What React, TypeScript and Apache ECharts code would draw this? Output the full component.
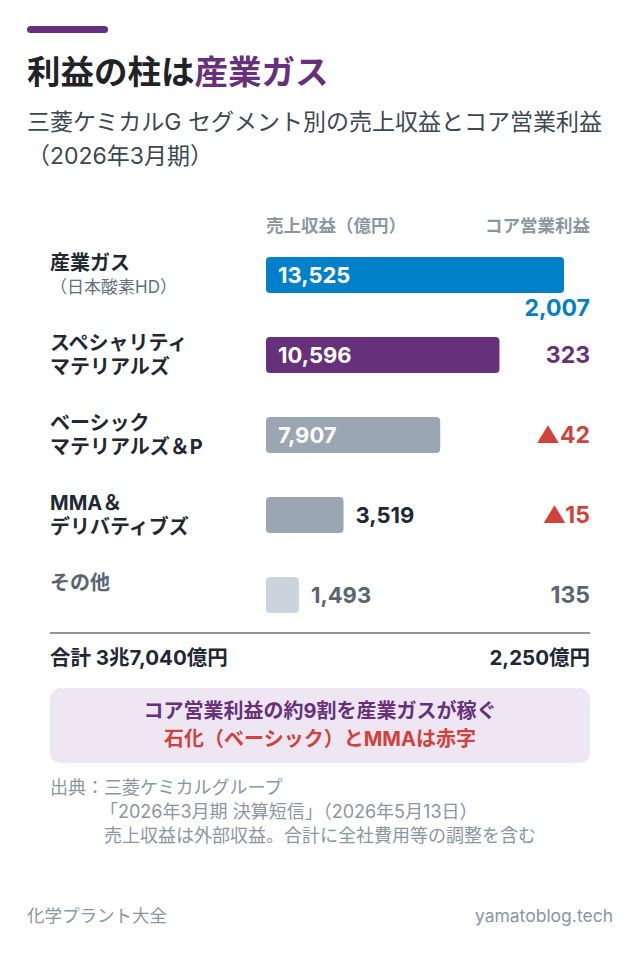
import { useEffect, useRef } from "react";
import * as echarts from "echarts";

// segment data (億円, 2026年3月期)
const segmentNames = ["産業ガス", "スペシャリティ", "ベーシック", "MMA＆", "その他"];
const segmentNotes = ["（日本酸素HD）", "マテリアルズ", "マテリアルズ＆P", "デリバティブズ", ""];
const revenue = [13525, 10596, 7907, 3519, 1493];
const coreProfit = [2007, 323, -42, -15, 135];
const totalRevenue = 37040;
const totalCoreProfit = 2250;

const FONT = "Inter, 'Noto Sans CJK JP', 'Noto Sans', sans-serif";
const DARK = "#1f2933";
const SUB = "#3d4752";
const MUTED = "#5b6571";
const LIGHT = "#8c96a1";
const BLUE = "#0080c8";
const PURPLE = "#66317a";
const RED = "#d0423b";

const barColors = [BLUE, PURPLE, "#9aa6b2", "#9aa6b2", "#c9d4dd"];
const coreColors = [BLUE, PURPLE, RED, RED, MUTED];
const outsideLabelColors = [DARK, DARK, DARK, DARK, MUTED];

const fmt = (n: number) => n.toLocaleString("en-US");
const fmtCore = (n: number) => (n < 0 ? "▲" + fmt(-n) : fmt(n));
function fmtOku(n: number) {
    const cho = Math.floor(n / 10000);
    return (cho ? cho + "兆" : "") + fmt(n % 10000) + "億円";
}

function txt(text: string, x: number, y: number, size: number, color: string, opts: { bold?: boolean; align?: string } = {}) {
    const align = opts.align ?? "left";
    return {
        type: "text",
        style: {
            text, x, y,
            font: `${opts.bold ? "bold " : ""}${size}px ${FONT}`,
            fill: color,
            align, textAlign: align,
            verticalAlign: "middle", textVerticalAlign: "middle"
        }
    };
}

function buildOption(): echarts.EChartsCoreOption {
    const leftRich: Record<string, object> = {
        n: { fontFamily: FONT, fontSize: 20, fontWeight: "bold", color: DARK, lineHeight: 24 },
        m: { fontFamily: FONT, fontSize: 20, fontWeight: "bold", color: MUTED, lineHeight: 24 },
        s: { fontFamily: FONT, fontSize: 17, color: "#66707a", lineHeight: 24 }
    };
    const rightRich: Record<string, object> = {
        sp: { fontSize: 12, lineHeight: 66 }
    };
    coreColors.forEach((c, i) => {
        rightRich["c" + i] = { fontFamily: FONT, fontSize: 23, fontWeight: "bold", color: c, lineHeight: i === 0 ? 66 : 30 };
    });

    return {
        animation: false,
        backgroundColor: "#ffffff",
        grid: { left: 266, right: 76, top: 235, height: 400 },
        xAxis: { type: "value", min: 0, max: 13525, show: false },
        yAxis: [
            {
                type: "category",
                data: segmentNames,
                inverse: true,
                position: "left",
                axisLine: { show: false },
                axisTick: { show: false },
                axisLabel: {
                    interval: 0,
                    margin: 216,
                    align: "left",
                    rich: leftRich,
                    formatter: (v: string, i: number) => {
                        const note = segmentNotes[i];
                        if (i === 0) return `{n|${v}}\n{s|${note}}`;
                        if (i === segmentNames.length - 1) return `{m|${v}}\n{s| }`;
                        return `{n|${v}}\n{n|${note}}`;
                    }
                }
            },
            {
                type: "category",
                data: segmentNames,
                inverse: true,
                position: "right",
                axisLine: { show: false },
                axisTick: { show: false },
                axisLabel: {
                    interval: 0,
                    margin: 26,
                    align: "right",
                    rich: rightRich,
                    formatter: (_v: string, i: number) =>
                        i === 0 ? `{sp| }\n{c0|${fmtCore(coreProfit[0])}}` : `{c${i}|${fmtCore(coreProfit[i])}}`
                }
            }
        ],
        series: [
            {
                type: "bar",
                yAxisIndex: 0,
                barWidth: 36,
                data: revenue.map((v, i) => {
                    const inside = v > 5000;
                    return {
                        value: v,
                        itemStyle: { color: barColors[i], borderRadius: 4 },
                        label: {
                            show: true,
                            position: inside ? "insideLeft" : "right",
                            distance: 12,
                            formatter: fmt(v),
                            fontFamily: FONT,
                            fontSize: 22,
                            fontWeight: "bold",
                            color: inside ? "#ffffff" : outsideLabelColors[i]
                        }
                    };
                })
            }
        ],
        graphic: [
            { type: "rect", shape: { x: 27, y: 26, width: 81, height: 7, r: 3.5 }, style: { fill: PURPLE } },
            {
                type: "text",
                style: {
                    text: "{a|利益の柱は}{b|産業ガス}",
                    x: 27, y: 72,
                    align: "left", textAlign: "left",
                    verticalAlign: "middle", textVerticalAlign: "middle",
                    rich: {
                        a: { font: `bold 33.5px ${FONT}`, fill: "#1f2328" },
                        b: { font: `bold 33.5px ${FONT}`, fill: PURPLE }
                    }
                }
            },
            txt("三菱ケミカルG セグメント別の売上収益とコア営業利益", 27, 122, 23, SUB),
            txt("（2026年3月期）", 27, 156, 23, SUB),
            txt("売上収益（億円）", 266, 225, 17.5, LIGHT, { bold: true }),
            txt("コア営業利益", 590, 225, 17.5, LIGHT, { bold: true, align: "right" }),
            { type: "line", shape: { x1: 50, y1: 633, x2: 590, y2: 633 }, style: { stroke: LIGHT, lineWidth: 2 } },
            txt("合計 " + fmtOku(totalRevenue), 50, 657, 20.5, DARK, { bold: true }),
            txt(fmtOku(totalCoreProfit), 590, 657, 20.5, DARK, { bold: true, align: "right" }),
            { type: "rect", shape: { x: 50, y: 688, width: 540, height: 75, r: 10 }, style: { fill: "#efe6f3" } },
            txt("コア営業利益の約9割を産業ガスが稼ぐ", 320, 711, 20, PURPLE, { bold: true, align: "center" }),
            txt("石化（ベーシック）とMMAは赤字", 320, 739, 20, RED, { bold: true, align: "center" }),
            txt("出典：三菱ケミカルグループ", 50, 787, 18, LIGHT),
            txt("「2026年3月期 決算短信」（2026年5月13日）", 100, 811, 18, LIGHT),
            txt("売上収益は外部収益。合計に全社費用等の調整を含む", 104, 835, 18, LIGHT),
            txt("化学プラント大全", 27, 915, 17.5, LIGHT),
            txt("yamatoblog.tech", 613, 915, 17.5, LIGHT, { align: "right" })
        ]
    };
}

export default function App() {
    const ref = useRef<HTMLDivElement>(null);

    useEffect(() => {
        document.body.style.margin = "0";
        if (!ref.current) return;
        const chart = echarts.init(ref.current, undefined, { renderer: "svg" });
        chart.setOption(buildOption());
        return () => chart.dispose();
    }, []);

    return <div ref={ref} style={{ width: 640, height: 955, background: "#fff" }} />;
}
